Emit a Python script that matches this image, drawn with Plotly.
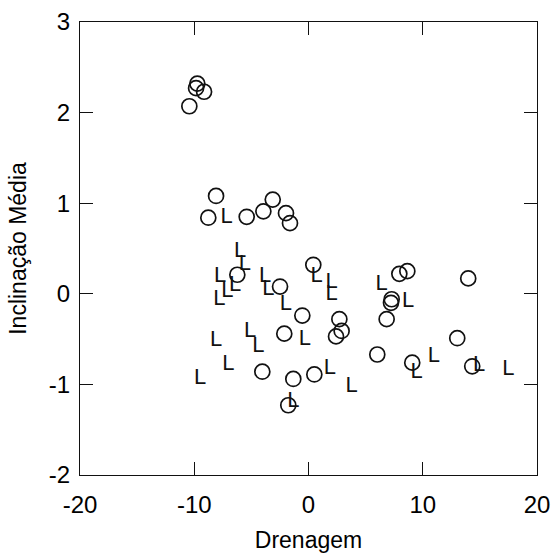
import plotly.graph_objects as go

# Group "O" (open circles)
o_x = [-10.43, -9.84, -9.73, -9.14, -8.09, -8.77, -5.41, -3.95, -3.13, -1.97, -1.62,
       -6.23, -2.49, -0.54, -2.12, -4.04, -1.33, -1.77, 0.42, 2.70, 2.90, 2.41,
       6.02, 6.84, 7.22, 7.28, 7.95, 8.65, 13.98, 13.02, 9.08, 14.33, 0.51]
o_y = [2.07, 2.27, 2.32, 2.23, 1.08, 0.84, 0.85, 0.91, 1.04, 0.89, 0.78,
       0.21, 0.08, -0.24, -0.44, -0.86, -0.94, -1.23, 0.32, -0.28, -0.41, -0.47,
       -0.67, -0.28, -0.10, -0.06, 0.22, 0.25, 0.17, -0.49, -0.76, -0.80, -0.89]

# Group "L" (letter markers)
l_x = [-7.16, -5.99, -5.56, -7.74, -6.43, -7.10, -7.80, -3.80, -3.51, -1.97,
       -8.09, -5.12, -4.39, -0.31, -7.02, -9.49, -1.33, 0.72, 2.03, 2.03,
       6.40, 8.73, 10.98, 9.46, 14.94, 17.50, 1.88, 3.78]
l_y = [0.84, 0.47, 0.32, 0.19, 0.09, 0.03, -0.06, 0.19, 0.05, -0.12,
       -0.51, -0.42, -0.58, -0.50, -0.78, -0.94, -1.19, 0.19, 0.12, -0.01,
       0.10, -0.09, -0.69, -0.87, -0.79, -0.83, -0.82, -1.02]

x_ticks = [-20, -10, 0, 10, 20]
y_ticks = [-2, -1, 0, 1, 2, 3]

FONT = "Liberation Sans, Arial, sans-serif"

fig = go.Figure()
fig.add_trace(go.Scatter(
    x=o_x, y=o_y, mode="markers",
    marker=dict(symbol="circle-open", size=15, color="#111111", line=dict(width=1.7, color="#111111")),
    showlegend=False, hoverinfo="x+y"))
fig.add_trace(go.Scatter(
    x=l_x, y=l_y, mode="text", text=["L"] * len(l_x),
    textposition="middle center",
    textfont=dict(family=FONT, size=22, color="#111111"),
    showlegend=False, hoverinfo="x+y"))

axis_common = dict(
    showgrid=False, zeroline=False, showline=True, linecolor="#111111", linewidth=1,
    mirror="ticks", ticks="inside", ticklen=13, tickwidth=1, tickcolor="#111111",
    tickfont=dict(family=FONT, size=24, color="#000000"), automargin=False,
)

fig.update_layout(
    width=554, height=556,
    margin=dict(l=80, r=17, t=22, b=81),
    paper_bgcolor="white", plot_bgcolor="white",
    xaxis=dict(range=[-20, 20], tickvals=x_ticks, ticktext=[str(v) for v in x_ticks],
               title=dict(text="Drenagem", font=dict(family=FONT, size=23, color="#000000")),
               ticklabelstandoff=8, **axis_common),
    yaxis=dict(range=[-2, 3], tickvals=y_ticks, ticktext=[str(v) for v in y_ticks],
               title=dict(text="Inclinação Média", font=dict(family=FONT, size=23, color="#000000")),
               ticklabelstandoff=4, **axis_common),
)

fig.write_html("out.html", config={"displayModeBar": False},
               post_script="document.body.style.margin='0';document.body.style.overflow='hidden';")
